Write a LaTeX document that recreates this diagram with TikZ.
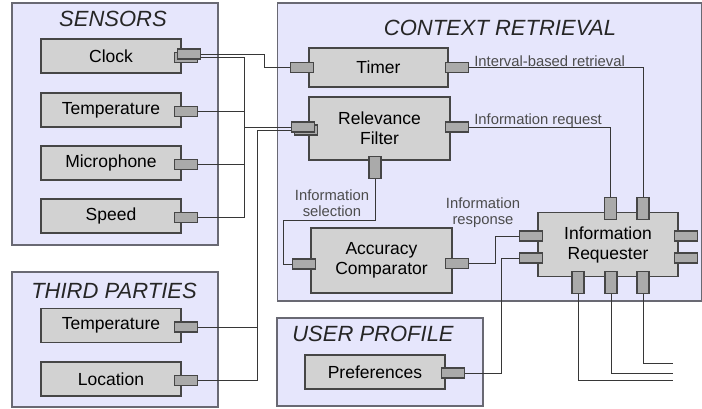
\documentclass[tikz,border=0pt]{standalone}
\usepackage{fontspec}
\setmainfont{Liberation Sans}

\definecolor{panelfill}{RGB}{230,230,252}
\definecolor{paneledge}{RGB}{105,105,115}
\definecolor{boxfill}{RGB}{210,210,210}
\definecolor{boxedge}{RGB}{70,70,70}
\definecolor{portfill}{RGB}{170,170,170}
\definecolor{wiregrey}{RGB}{55,55,55}

\pgfdeclarelayer{panels}
\pgfdeclarelayer{wires}
\pgfsetlayers{panels,wires,main}

\tikzset{
  panel/.style={draw=paneledge, fill=panelfill, line width=1.3pt, inner sep=0pt},
  paneltitle/.style={font=\fontsize{22}{26}\selectfont\itshape, text=black!85, inner sep=0pt},
  unit/.style={draw=boxedge, fill=boxfill, line width=1.2pt, align=center, inner sep=0pt,
    minimum width=140pt, minimum height=34pt, font=\fontsize{17.5}{20}\selectfont},
  hport/.style={draw=boxedge, fill=portfill, line width=1.1pt, minimum width=23pt,
    minimum height=10pt, inner sep=0pt},
  vport/.style={hport, minimum width=12pt, minimum height=22pt},
  wire/.style={draw=wiregrey, line width=0.9pt},
  wirelabel/.style={font=\fontsize{14.8}{16}\selectfont, text=black!70, align=center, inner sep=0pt}
}

\begin{document}
\begin{tikzpicture}[x=1pt,y=-1pt]
    \useasboundingbox (0,0) rectangle (702,408);

    % Panels
    \begin{pgfonlayer}{panels}
    \node[panel, minimum width=206pt, minimum height=242pt] (sensors) at (115,124) {};
    \node[panel, minimum width=206pt, minimum height=135pt] (thirdparties) at (115,339.5) {};
    \node[panel, minimum width=424pt, minimum height=298pt] (context) at (489.5,152) {};
    \node[panel, minimum width=206pt, minimum height=88pt] (userprofile) at (380,362) {};
    \end{pgfonlayer}

    \node[paneltitle] (sensorstitle) at (113,19) {SENSORS};
    \node[paneltitle] (thirdtitle) at (114,291) {THIRD PARTIES};
    \node[paneltitle] (contexttitle) at (500,28) {CONTEXT RETRIEVAL};
    \node[paneltitle] (profiletitle) at (373,334) {USER PROFILE};

    % Sensors
    \node[unit] (clock) at (111,56) {Clock};
    \node[unit] (temp) at (111,110) {Temperature};
    \node[unit] (mic) at (111,163) {Microphone};
    \node[unit] (speed) at (111,216) {Speed};
    \node[hport] (clockportB) at ([xshift=4pt,yshift=-1.5pt]clock.east) {};
    \node[hport] (clockportA) at ([xshift=7pt,yshift=2pt]clock.east) {};
    \node[hport] (tempport) at ([xshift=4pt,yshift=-1.5pt]temp.east) {};
    \node[hport] (micport) at ([xshift=4pt,yshift=-1.5pt]mic.east) {};
    \node[hport] (speedport) at ([xshift=4pt,yshift=-1.5pt]speed.east) {};

    % Third parties
    \node[unit] (tptemp) at (111,325.5) {Temperature};
    \node[unit] (tploc) at (111,379) {Location};
    \node[hport] (tptempport) at ([xshift=4pt,yshift=-1.5pt]tptemp.east) {};
    \node[hport] (tplocport) at ([xshift=4pt,yshift=-1.5pt]tploc.east) {};

    % Context retrieval
    \node[unit, minimum width=139pt, minimum height=39pt] (timer) at (378.5,67.5) {Timer};
    \node[unit, minimum width=141pt, minimum height=63pt] (filter) at (379.5,128.5) {Relevance\\Filter};
    \node[unit, minimum width=141pt, minimum height=65pt] (comparator) at (381.5,260.5) {Accuracy\\Comparator};
    \node[unit, minimum width=140pt, minimum height=64pt] (requester) at (608,244.5) {Information\\Requester};

    \node[hport] (timerin) at ([xshift=-6pt]timer.west) {};
    \node[hport] (timerout) at ([xshift=8pt]timer.east) {};
    \node[hport] (filterinB) at ([xshift=-2.5pt,yshift=-1.5pt]filter.west) {};
    \node[hport] (filterinA) at ([xshift=-5.5pt,yshift=1.5pt]filter.west) {};
    \node[hport] (filterout) at ([xshift=6pt,yshift=1.5pt]filter.east) {};
    \node[vport] (filterdown) at ([xshift=-4.5pt,yshift=-6.5pt]filter.south) {};
    \node[hport] (compin) at ([xshift=-6.5pt,yshift=-3.5pt]comparator.west) {};
    \node[hport] (compout) at ([xshift=4.5pt,yshift=-3pt]comparator.east) {};

    \node[hport] (reqin1) at ([xshift=-6pt,yshift=8.5pt]requester.west) {};
    \node[hport] (reqin2) at ([xshift=-6pt,yshift=-13.5pt]requester.west) {};
    \node[hport] (reqout1) at ([xshift=7pt,yshift=8.5pt]requester.east) {};
    \node[hport] (reqout2) at ([xshift=7pt,yshift=-13.5pt]requester.east) {};
    \node[vport] (reqtop1) at ([xshift=2.5pt,yshift=3.5pt]requester.north) {};
    \node[vport] (reqtop2) at ([xshift=35pt,yshift=3.5pt]requester.north) {};
    \node[vport] (reqbot1) at ([xshift=-30pt,yshift=-5.5pt]requester.south) {};
    \node[vport] (reqbot2) at ([xshift=3pt,yshift=-5.5pt]requester.south) {};
    \node[vport] (reqbot3) at ([xshift=35pt,yshift=-5.5pt]requester.south) {};

    % User profile
    \node[unit, minimum width=140pt] (prefs) at (375,372) {Preferences};
    \node[hport] (prefport) at ([xshift=7pt,yshift=-1pt]prefs.east) {};

    % Bus lines and loose ends
    \coordinate (sensorbus) at (244,0);
    \coordinate (thirdbus) at (257,0);
    \coordinate (exit1) at (673,380);
    \coordinate (exit2) at (673,373);
    \coordinate (exit3) at (673,363);

    % Connections
    \begin{pgfonlayer}{wires}
    \draw[wire] (clockportA.east) -- ++(63.5,0) |- (timerin.west);
    \draw[wire] (clockportB.east) -- (clockportB.east -| sensorbus) |- (speedport.east);
    \draw[wire] (tempport.east) -- (tempport.east -| sensorbus);
    \draw[wire] (micport.east) -- (micport.east -| sensorbus);
    \draw[wire] (filterinA.west) -- (filterinA.west -| sensorbus);
    \draw[wire] (filterinB.west) -| (thirdbus |- tplocport.east) -- (tplocport.east);
    \draw[wire] (tptempport.east) -- (tptempport.east -| thirdbus);
    \draw[wire] (timerout.east) -| (reqtop2.north);
    \draw[wire] (filterout.east) -| (reqtop1.north);
    \draw[wire] (filterdown.south) -- ++(0,42) -| ([xshift=-8pt]compin.west) -- (compin.west);
    \draw[wire] (compout.east) -- ++(26,0) |- (reqin1.west);
    \draw[wire] (prefport.east) -- ++(37,0) |- (reqin2.west);
    \draw[wire] (reqbot1.south) |- (exit1);
    \draw[wire] (reqbot2.south) |- (exit2);
    \draw[wire] (reqbot3.south) |- (exit3);
    \end{pgfonlayer}

    % Connection labels
    \node[wirelabel, anchor=base west] (intervallabel) at ([xshift=5.5pt,yshift=1pt]timerout.east) {Interval-based retrieval};
    \node[wirelabel, anchor=base west] (requestlabel) at ([xshift=5.5pt,yshift=3pt]filterout.east) {Information request};
    \node[wirelabel] (selectionlabel) at (332,203) {Information\\selection};
    \node[wirelabel] (responselabel) at (483,213) {Information\\response};
\end{tikzpicture}
\end{document}
